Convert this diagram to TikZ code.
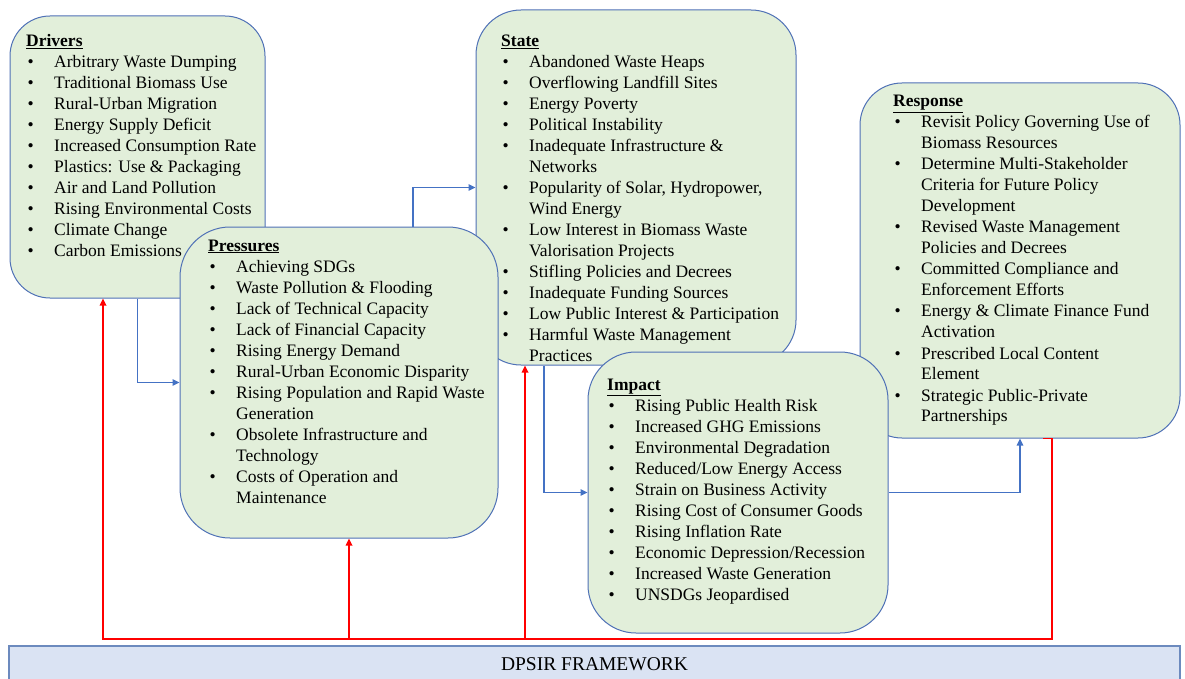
\documentclass[tikz,border=0pt]{standalone}
\usepackage{fontspec}
\setmainfont{Liberation Serif}
\usetikzlibrary{arrows.meta}
\definecolor{boxfill}{RGB}{226,239,218}
\definecolor{boxline}{RGB}{79,113,182}
\definecolor{arrblue}{RGB}{68,114,196}
\definecolor{arrred}{RGB}{255,0,0}
\definecolor{barfill}{RGB}{218,227,243}
\definecolor{barline}{RGB}{108,138,190}
\newcommand\hd[1]{\underline{\textbf{#1}}}
\newcommand\bul[1]{\par\hspace*{1.5pt}\makebox[26.5pt][l]{\textbullet}#1}
\newcommand\cnt[1]{\par\hspace*{28pt}#1}
\newcommand\blk[1]{\parbox[t]{330pt}{\fontsize{17.5}{21}\selectfont\raggedright #1}}
\begin{document}
\begin{tikzpicture}[x=1pt,y=-1pt,
  box/.style={draw=boxline, fill=boxfill, line width=1pt, rectangle, inner sep=0pt},
  txt/.style={anchor=base west, inner sep=0pt},
  barrow/.style={draw=arrblue, line width=1.2pt, -{Triangle[length=7pt,width=6.5pt]}},
  rarrow/.style={draw=arrred, line width=1.6pt, -{Triangle[length=7pt,width=6.5pt]}},
  framebar/.style={draw=barline, fill=barfill, line width=1.6pt, rectangle, inner sep=0pt, font=\fontsize{19.5}{22}\selectfont}]
\useasboundingbox (0,0) rectangle (1185,679);

% Drivers
\node[box, rounded corners=40pt, minimum width=255pt, minimum height=282pt] (drv) at (137.5,157) {};
\node[txt] (drvt) at (26,47) {\blk{\hd{Drivers}
\bul{Arbitrary Waste Dumping}
\bul{Traditional Biomass Use}
\bul{Rural-Urban Migration}
\bul{Energy Supply Deficit}
\bul{Increased Consumption Rate}
\bul{Plastics: Use \& Packaging}
\bul{Air and Land Pollution}
\bul{Rising Environmental Costs}
\bul{Climate Change}
\bul{Carbon Emissions}}};

% State
\node[box, rounded corners=45pt, minimum width=320pt, minimum height=355pt] (st) at (636,187.5) {};
\node[txt] (stt) at (501,47) {\blk{\hd{State}
\bul{Abandoned Waste Heaps}
\bul{Overflowing Landfill Sites}
\bul{Energy Poverty}
\bul{Political Instability}
\bul{Inadequate Infrastructure \&}
\cnt{Networks}
\bul{Popularity of Solar, Hydropower,}
\cnt{Wind Energy}
\bul{Low Interest in Biomass Waste}
\cnt{Valorisation Projects}
\bul{Stifling Policies and Decrees}
\bul{Inadequate Funding Sources}
\bul{Low Public Interest \& Participation}
\bul{Harmful Waste Management}
\cnt{Practices}}};

% Pressures
\node[box, rounded corners=50pt, minimum width=318pt, minimum height=311pt] (prs) at (339,382.5) {};
\node[txt] (prst) at (208,251) {\blk{\hd{Pressures}
\bul{Achieving SDGs}
\bul{Waste Pollution \& Flooding}
\bul{Lack of Technical Capacity}
\bul{Lack of Financial Capacity}
\bul{Rising Energy Demand}
\bul{Rural-Urban Economic Disparity}
\bul{Rising Population and Rapid Waste}
\cnt{Generation}
\bul{Obsolete Infrastructure and}
\cnt{Technology}
\bul{Costs of Operation and}
\cnt{Maintenance}}};

% Response
\node[box, rounded corners=42pt, minimum width=320pt, minimum height=355pt] (resp) at (1020,260.5) {};
\node[txt] (respt) at (893,107) {\blk{\hd{Response}
\bul{Revisit Policy Governing Use of}
\cnt{Biomass Resources}
\bul{Determine Multi-Stakeholder}
\cnt{Criteria for Future Policy}
\cnt{Development}
\bul{Revised Waste Management}
\cnt{Policies and Decrees}
\bul{Committed Compliance and}
\cnt{Enforcement Efforts}
\bul{Energy \& Climate Finance Fund}
\cnt{Activation}
\bul{Prescribed Local Content}
\cnt{Element}
\bul{Strategic Public-Private}
\cnt{Partnerships}}};

% Impact
\node[box, rounded corners=48pt, minimum width=300pt, minimum height=281pt] (imp) at (738,492.5) {};
\node[txt] (impt) at (607,390) {\blk{\hd{Impact}
\bul{Rising Public Health Risk}
\bul{Increased GHG Emissions}
\bul{Environmental Degradation}
\bul{Reduced/Low Energy Access}
\bul{Strain on Business Activity}
\bul{Rising Cost of Consumer Goods}
\bul{Rising Inflation Rate}
\bul{Economic Depression/Recession}
\bul{Increased Waste Generation}
\bul{UNSDGs Jeopardised}}};

% Framework bar
\node[framebar, minimum width=1171pt, minimum height=36pt] (bar) at (594.5,664) {DPSIR FRAMEWORK};

% blue connectors
\coordinate (p1) at (413,0);
\coordinate (s1) at (544,0);
\draw[barrow] (drv.south) |- (prs.west);
\draw[barrow] (prs.north -| p1) |- (st.west);
\draw[barrow] (st.south -| s1) |- (imp.west);
\draw[barrow] (imp.east) -| (resp.south);

% red feedback connectors
\coordinate (r1) at (103,639);
\coordinate (r2) at (349,639);
\coordinate (r3) at (525,639);
\coordinate (r4) at (1052,639);
\coordinate (r5) at (1043,0);
\draw[rarrow] (resp.south -| r5) -- (resp.south -| r4) -- (r4) -- (r1) -- (r1 |- drv.south);
\draw[rarrow] (r2) -- (r2 |- prs.south);
\draw[rarrow] (r3) -- (r3 |- st.south);
\end{tikzpicture}
\end{document}
